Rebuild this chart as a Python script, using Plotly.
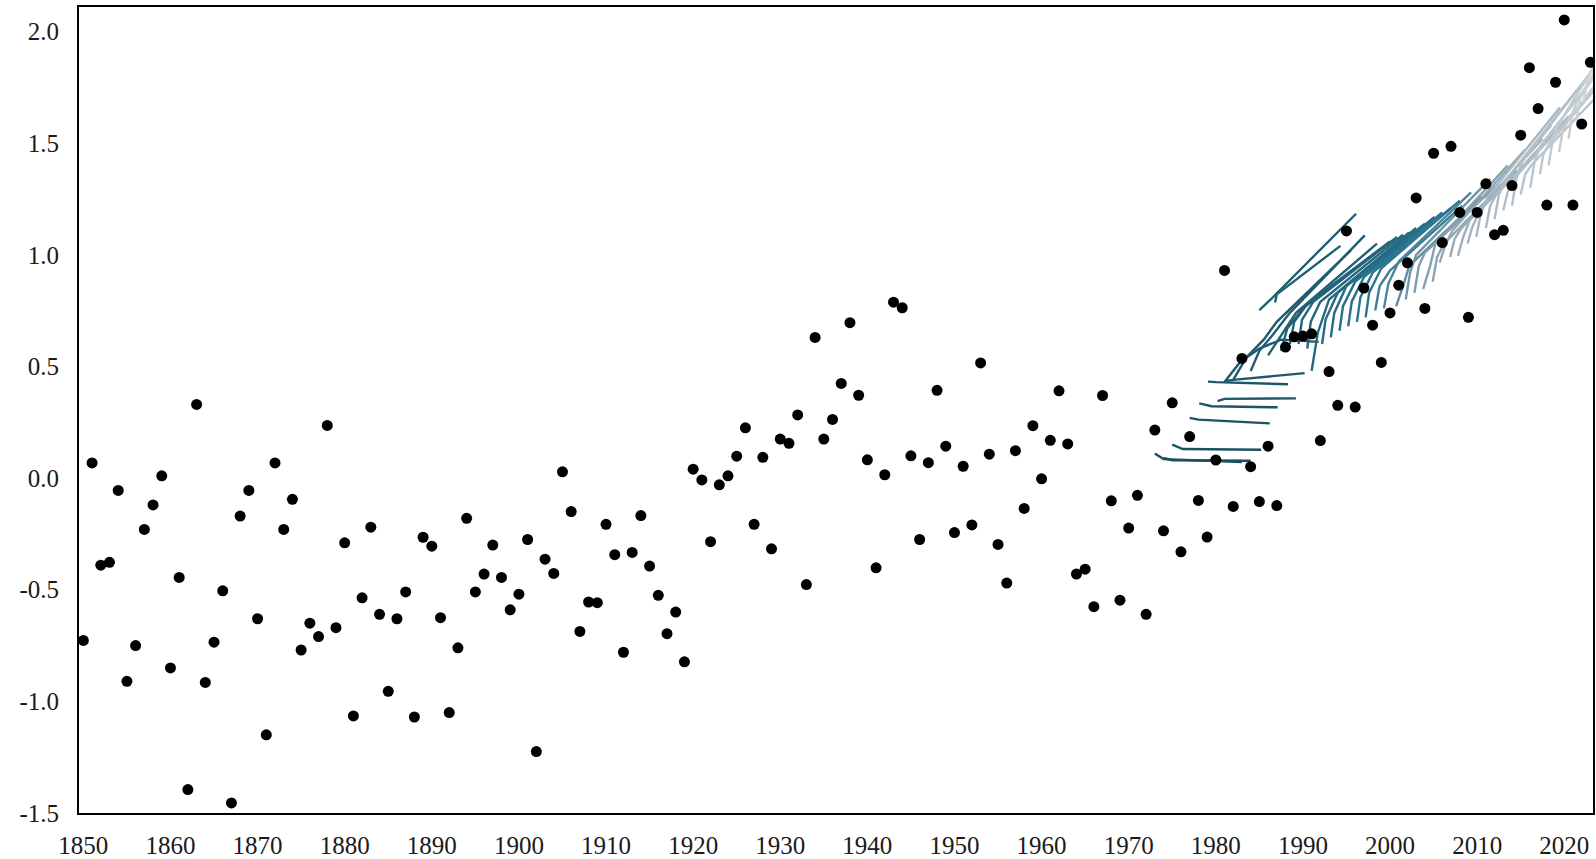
import plotly.graph_objects as go
from plotly.colors import sample_colorscale

# ---------------- observed annual anomalies ----------------
obs_years = list(range(1850, 2024))
obs_values = [
    -0.727, 0.068, -0.39, -0.377, -0.055, -0.91, -0.75, -0.23, -0.12, 0.01,      # 1850-1859
    -0.85, -0.445, -1.395, 0.33, -0.915, -0.735, -0.505, -1.455, -0.17, -0.055,  # 1860-1869
    -0.63, -1.15, 0.068, -0.23, -0.095, -0.77, -0.65, -0.71, 0.236, -0.67,       # 1870-1879
    -0.29, -1.065, -0.536, -0.22, -0.61, -0.955, -0.63, -0.51, -1.07, -0.265,    # 1880-1889
    -0.305, -0.625, -1.05, -0.76, -0.18, -0.51, -0.43, -0.30, -0.445, -0.59,     # 1890-1899
    -0.52, -0.275, -1.225, -0.363, -0.427, 0.028, -0.15, -0.687, -0.555, -0.558, # 1900-1909
    -0.207, -0.343, -0.78, -0.333, -0.168, -0.394, -0.525, -0.697, -0.60, -0.823,# 1910-1919
    0.04, -0.008, -0.285, -0.03, 0.01, 0.098, 0.225, -0.207, 0.093, -0.317,      # 1920-1929
    0.175, 0.156, 0.283, -0.477, 0.63, 0.175, 0.263, 0.424, 0.696, 0.371,        # 1930-1939
    0.082, -0.402, 0.015, 0.788, 0.763, 0.10, -0.275, 0.069, 0.393, 0.143,       # 1940-1949
    -0.244, 0.053, -0.21, 0.516, 0.107, -0.297, -0.47, 0.123, -0.136, 0.235,     # 1950-1959
    -0.003, 0.169, 0.391, 0.153, -0.43, -0.408, -0.576, 0.37, -0.102, -0.547,    # 1960-1969
    -0.224, -0.077, -0.61, 0.215, -0.236, 0.337, -0.33, 0.186, -0.10, -0.264,    # 1970-1979
    0.081, 0.93, -0.127, 0.536, 0.051, -0.105, 0.143, -0.123, 0.587, 0.633,      # 1980-1989
    0.636, 0.646, 0.168, 0.477, 0.326, 1.107, 0.318, 0.851, 0.685, 0.518,        # 1990-1999
    0.74, 0.864, 0.964, 1.255, 0.76, 1.455, 1.055, 1.486, 1.19, 0.72,            # 2000-2009
    1.19, 1.318, 1.09, 1.11, 1.31, 1.536, 1.838, 1.655, 1.223, 1.773,            # 2010-2019
    2.052, 1.223, 1.586, 1.862,                                                   # 2020-2023
]

# ---------------- forecast traces (vertices) ----------------
fc_start = [1973, 1974, 1975, 1977, 1978, 1979, 1980, 1981,
            1981, 1982, 1985, 1986, 1984, 1986, 1987, 1988, 1989, 1990, 1991,
            1992, 1993, 1994, 1995, 1996, 1997,
            1998, 1999, 2000, 2001, 2002, 2003, 2004, 2005, 2006, 2007, 2008,
            2009, 2010, 2011, 2012, 2013, 2014, 2015, 2016, 2017, 2018, 2019,
            2020, 2021]

fc_x = [
    [1973.0, 1974.0, 1983.0],
    [1974.0, 1975.0, 1984.0],
    [1975.0, 1976.2, 1985.2],
    [1977.0, 1978.0, 1986.2],
    [1978.1, 1979.5, 1987.1],
    [1979.1, 1980.0, 1988.3],
    [1980.2, 1981.0, 1989.2],
    [1981.2, 1982.0, 1990.2],
    [1981.0, 1982.8, 1985.0, 1987.5, 1991.8],
    [1982.0, 1983.5, 1985.5, 1987.0, 1995.5],
    [1985.0, 1986.3, 1996.1],
    [1986.8, 1987.0, 1994.3],
    [1984.0, 1985.0, 1986.5, 1988.5, 1997.1],
    [1986.0, 1987.5, 1989.2, 1998.5],
    [1987.5, 1988.2, 1990.0, 1999.2],
    [1988.5, 1989.0, 1990.5, 2000.0],
    [1989.5, 1989.9, 1991.2, 2000.8],
    [1990.5, 1990.9, 1992.0, 2001.5],
    [1991.0, 1991.7, 1993.0, 2002.2],
    [1992.2, 1992.6, 1994.0, 2003.0],
    [1993.2, 1993.6, 1995.0, 2004.0],
    [1994.2, 1994.6, 1996.0, 2005.1],
    [1995.2, 1995.6, 1997.0, 2006.0],
    [1996.2, 1996.6, 1998.0, 2007.0],
    [1997.2, 1997.6, 1999.0, 2008.0],
    [1998.3, 1998.8, 2000.0, 2008.3],
    [1999.3, 1999.8, 2001.0, 2009.3],
    [2000.7, 2001.5, 2002.2, 2010.5],
    [2001.8, 2002.3, 2003.0, 2011.5],
    [2002.8, 2003.3, 2004.0, 2012.5],
    [2003.8, 2004.6, 2005.2, 2013.5],
    [2004.9, 2005.4, 2006.2, 2014.5],
    [2005.7, 2006.4, 2007.2, 2015.5],
    [2006.9, 2007.4, 2008.2, 2016.5],
    [2007.8, 2008.4, 2009.2, 2017.5],
    [2008.9, 2009.4, 2010.2, 2018.5],
    [2009.9, 2010.4, 2011.2, 2019.5],
    [2011.0, 2011.5, 2012.2, 2020.5],
    [2012.0, 2012.5, 2013.2, 2021.5],
    [2013.0, 2013.5, 2014.2, 2022.5],
    [2014.0, 2014.5, 2015.2, 2023.5],
    [2015.0, 2015.5, 2016.2, 2023.5],
    [2016.1, 2016.6, 2017.3, 2023.5],
    [2017.2, 2017.6, 2018.3, 2023.5],
    [2018.2, 2018.7, 2019.3, 2023.5],
    [2019.4, 2019.8, 2020.4, 2023.5],
    [2020.5, 2020.9, 2021.4, 2023.5],
    [2021.4, 2021.8, 2022.4, 2023.5],
    [2022.2, 2022.6, 2023.5],
]

fc_y = [
    [0.11, 0.085, 0.072],
    [0.09, 0.08, 0.078],
    [0.15, 0.13, 0.127],
    [0.27, 0.262, 0.245],
    [0.335, 0.322, 0.317],
    [0.432, 0.43, 0.42],
    [0.345, 0.355, 0.357],
    [0.435, 0.44, 0.47],
    [0.43, 0.52, 0.58, 0.62, 0.61],
    [0.44, 0.54, 0.62, 0.70, 1.02],
    [0.752, 0.80, 1.184],
    [0.786, 0.823, 1.04],
    [0.48, 0.57, 0.64, 0.74, 1.087],
    [0.55, 0.64, 0.74, 1.05],
    [0.57, 0.67, 0.76, 1.035],
    [0.60, 0.70, 0.78, 1.06],
    [0.60, 0.71, 0.79, 1.08],
    [0.58, 0.70, 0.79, 1.09],
    [0.48, 0.65, 0.80, 1.10],
    [0.60, 0.71, 0.83, 1.12],
    [0.63, 0.74, 0.86, 1.14],
    [0.66, 0.77, 0.88, 1.17],
    [0.68, 0.79, 0.90, 1.19],
    [0.70, 0.81, 0.92, 1.21],
    [0.72, 0.83, 0.94, 1.243],
    [0.75, 0.86, 0.93, 1.22],
    [0.76, 0.87, 0.97, 1.28],
    [0.77, 0.86, 0.95, 1.26],
    [0.80, 0.92, 1.00, 1.34],
    [0.83, 0.95, 1.01, 1.32],
    [0.846, 0.95, 1.05, 1.40],
    [0.88, 0.99, 1.05, 1.38],
    [0.965, 1.05, 1.11, 1.47],
    [0.99, 1.07, 1.12, 1.44],
    [0.995, 1.08, 1.16, 1.52],
    [1.05, 1.12, 1.19, 1.58],
    [1.08, 1.18, 1.26, 1.66],
    [1.12, 1.22, 1.27, 1.62],
    [1.16, 1.27, 1.33, 1.74],
    [1.20, 1.28, 1.34, 1.70],
    [1.22, 1.34, 1.42, 1.84],
    [1.27, 1.36, 1.40, 1.70],
    [1.30, 1.42, 1.49, 1.80],
    [1.36, 1.45, 1.50, 1.74],
    [1.40, 1.52, 1.58, 1.85],
    [1.46, 1.55, 1.60, 1.76],
    [1.52, 1.63, 1.68, 1.82],
    [1.60, 1.70, 1.74, 1.80],
    [1.68, 1.78, 1.86],
]

x_ticks = list(range(1850, 2030, 10))
y_ticks = [-1.5, -1.0, -0.5, 0.0, 0.5, 1.0, 1.5, 2.0]
y_ticktext = ["-1.5", "-1.0", "-0.5", "0.0", "0.5", "1.0", "1.5", "2.0"]

line_scale = [
    [0.0, "#1b4d5e"],
    [0.35, "#22657c"],
    [0.5, "#2b7590"],
    [0.6, "#7f9cad"],
    [0.75, "#a9b7c1"],
    [1.0, "#cdd3d7"],
]
y0, y1 = min(fc_start), max(fc_start)
fracs = [(s - y0) / (y1 - y0) for s in fc_start]
colors = sample_colorscale(line_scale, fracs)

fig = go.Figure()
order = sorted(range(len(fc_start)), key=lambda i: fc_start[i])
for i in order:
    fig.add_trace(go.Scatter(
        x=fc_x[i], y=fc_y[i], mode="lines",
        line=dict(color=colors[i], width=2.4),
        showlegend=False, hoverinfo="skip",
    ))

fig.add_trace(go.Scatter(
    x=obs_years, y=obs_values, mode="markers",
    marker=dict(color="black", size=11),
    showlegend=False,
))

tick_font = dict(family="Liberation Serif", size=25, color="#1a1a1a")

fig.update_layout(
    width=1596, height=859,
    margin=dict(l=79, r=3, t=7, b=46),
    paper_bgcolor="white", plot_bgcolor="white",
    xaxis=dict(
        range=[1849.5, 2023.3], automargin=False,
        tickmode="array", tickvals=x_ticks, ticktext=[str(v) for v in x_ticks],
        showgrid=False, zeroline=False,
        showline=True, mirror=True, linecolor="black", linewidth=2,
        ticks="", tickfont=tick_font, ticklabelstandoff=9,
    ),
    yaxis=dict(
        range=[-1.5, 2.11], automargin=False,
        tickmode="array", tickvals=y_ticks, ticktext=y_ticktext,
        showgrid=False, zeroline=False,
        showline=True, mirror=True, linecolor="black", linewidth=2,
        ticks="", tickfont=tick_font, ticklabelstandoff=13,
    ),
)

fig.write_html("out.html")
